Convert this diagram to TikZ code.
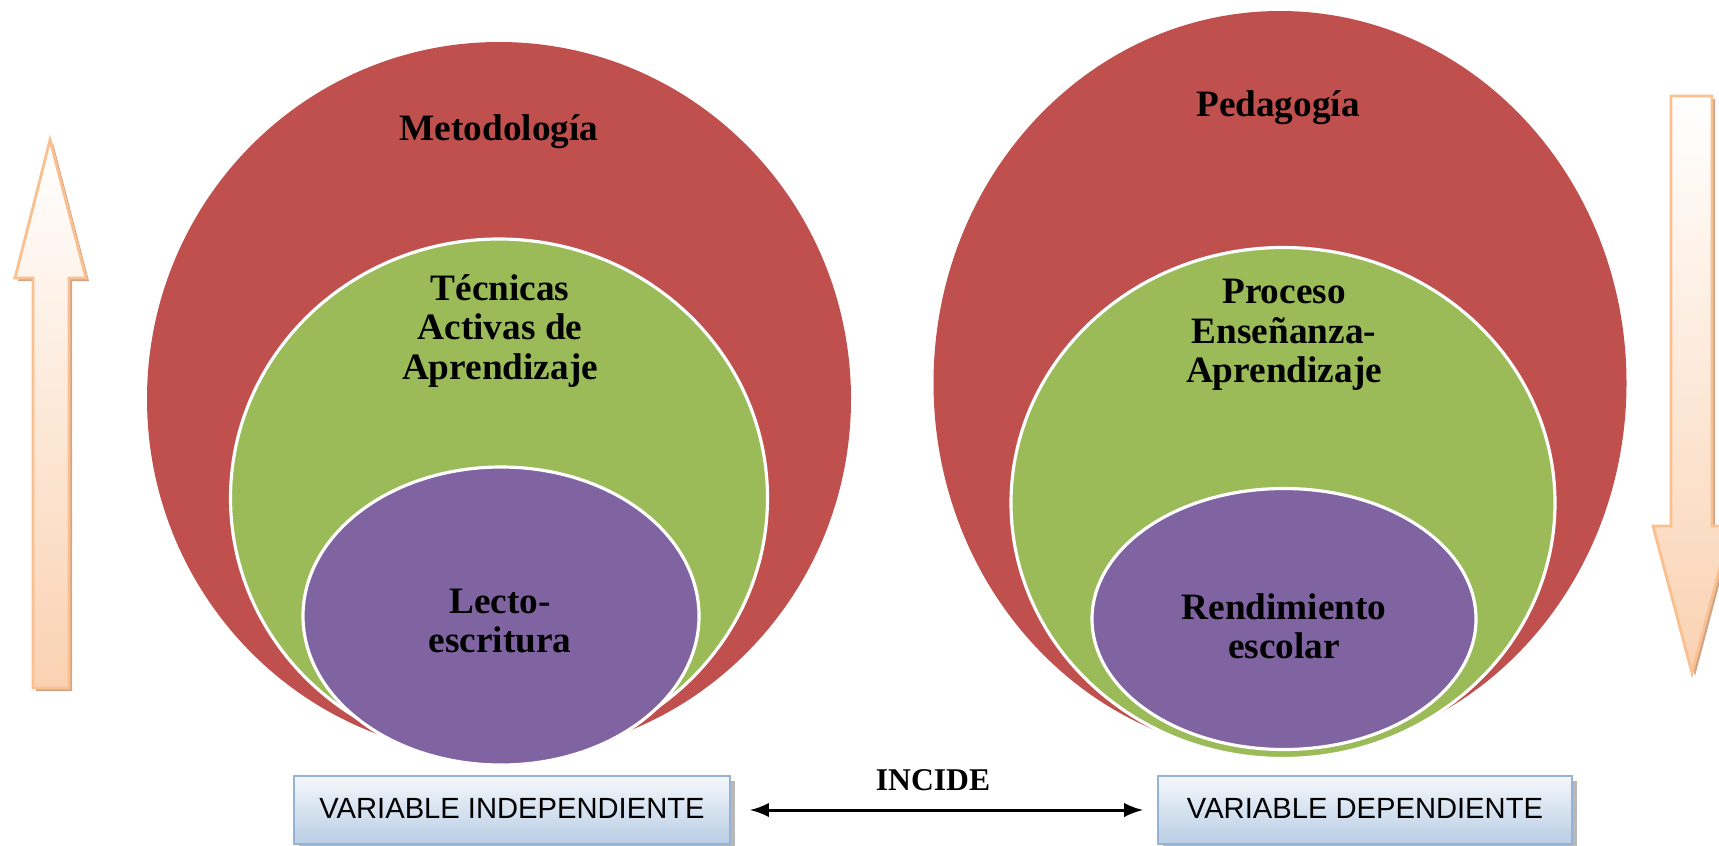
\documentclass[tikz,border=0pt]{standalone}
\usepackage{fontspec}
\setmainfont{Liberation Serif}
\setsansfont{Liberation Sans}
\usetikzlibrary{arrows,shapes,shadows}

\definecolor{rojo}{HTML}{C0504D}
\definecolor{verde}{HTML}{9BBB59}
\definecolor{morado}{HTML}{8064A2}
\definecolor{durazno}{HTML}{FAD2B2}
\definecolor{bordedurazno}{HTML}{FAC090}
\definecolor{sombradurazno}{HTML}{CFA68A}
\definecolor{azulclaro}{HTML}{B9CDE5}
\definecolor{bordeazul}{HTML}{95B3D7}

\begin{document}
\begin{tikzpicture}[x=0.1mm, y=-0.1mm,
    bola/.style={ellipse, inner sep=0pt, draw=white, line width=0.9pt},
    etiqueta/.style={font=\bfseries\fontsize{10.6}{11.2}\selectfont, align=center},
    caja/.style={draw=bordeazul, line width=0.6pt, top color=white!85!azulclaro,
        bottom color=azulclaro, minimum height=0.68cm,
        font=\sffamily\fontsize{8.3}{9}\selectfont,
        drop shadow={shadow xshift=0.5mm, shadow yshift=-0.5mm, fill=gray!70, opacity=0.8}},
    flecha/.style={draw=bordedurazno, line width=0.8pt, top color=white, bottom color=durazno}]
    \useasboundingbox (0,0) rectangle (1719,845);

    % variable independiente
    \node[bola, fill=rojo, draw=none, minimum width=7.04cm, minimum height=7.14cm] (met) at (499,399) {};
    \node[bola, fill=verde, minimum width=5.37cm, minimum height=5.18cm] (tec) at (499,498) {};
    \node[bola, fill=morado, minimum width=3.96cm, minimum height=2.98cm] (lec) at (501,616) {};
    \node[etiqueta] (metT) at (499,132) {Metodología};
    \node[etiqueta] (tecT) at (500,331) {Técnicas\\Activas de\\Aprendizaje};
    \node[etiqueta] (lecT) at (500,621) {Lecto-\\escritura};

    % variable dependiente
    \node[bola, fill=rojo, draw=none, minimum width=6.93cm, minimum height=7.44cm] (ped) at (1280,383) {};
    \node[bola, fill=verde, minimum width=5.44cm, minimum height=5.11cm] (pro) at (1283,503) {};
    \node[bola, fill=morado, minimum width=3.84cm, minimum height=2.61cm] (ren) at (1284,619) {};
    \node[etiqueta] (pedT) at (1278,108) {Pedagogía};
    \node[etiqueta] (proT) at (1284,335) {Proceso\\Enseñanza-\\Aprendizaje};
    \node[etiqueta] (renT) at (1284,626) {Rendimiento\\escolar};

    % cajas
    \node[caja, minimum width=4.36cm] (VI) at (512,810) {\raisebox{0.3mm}{VARIABLE INDEPENDIENTE}};
    \node[caja, minimum width=4.14cm] (VD) at (1365,810) {\raisebox{0.3mm}{VARIABLE DEPENDIENTE}};
    \node[font=\bfseries\fontsize{9}{10}\selectfont] (inc) at (933,780) {INCIDE};
    \path[latex-latex, line width=0.85pt]
        (VI) edge[shorten <=1.9mm, shorten >=1.4mm] (VD);

    % flechas laterales
    \fill[sombradurazno, shift={(3,3)}] (50,140) -- (86,278) -- (69,278) -- (69,688)
        -- (33,688) -- (33,278) -- (15,278) -- cycle;
    \path[flecha] (50,140) -- (86,278) -- (69,278) -- (69,688)
        -- (33,688) -- (33,278) -- (15,278) -- cycle;
    \fill[sombradurazno, shift={(3,3)}] (1671,96) -- (1712,96) -- (1712,526) -- (1731,526)
        -- (1692,673) -- (1653,526) -- (1671,526) -- cycle;
    \path[flecha] (1671,96) -- (1712,96) -- (1712,526) -- (1731,526)
        -- (1692,673) -- (1653,526) -- (1671,526) -- cycle;
\end{tikzpicture}
\end{document}
